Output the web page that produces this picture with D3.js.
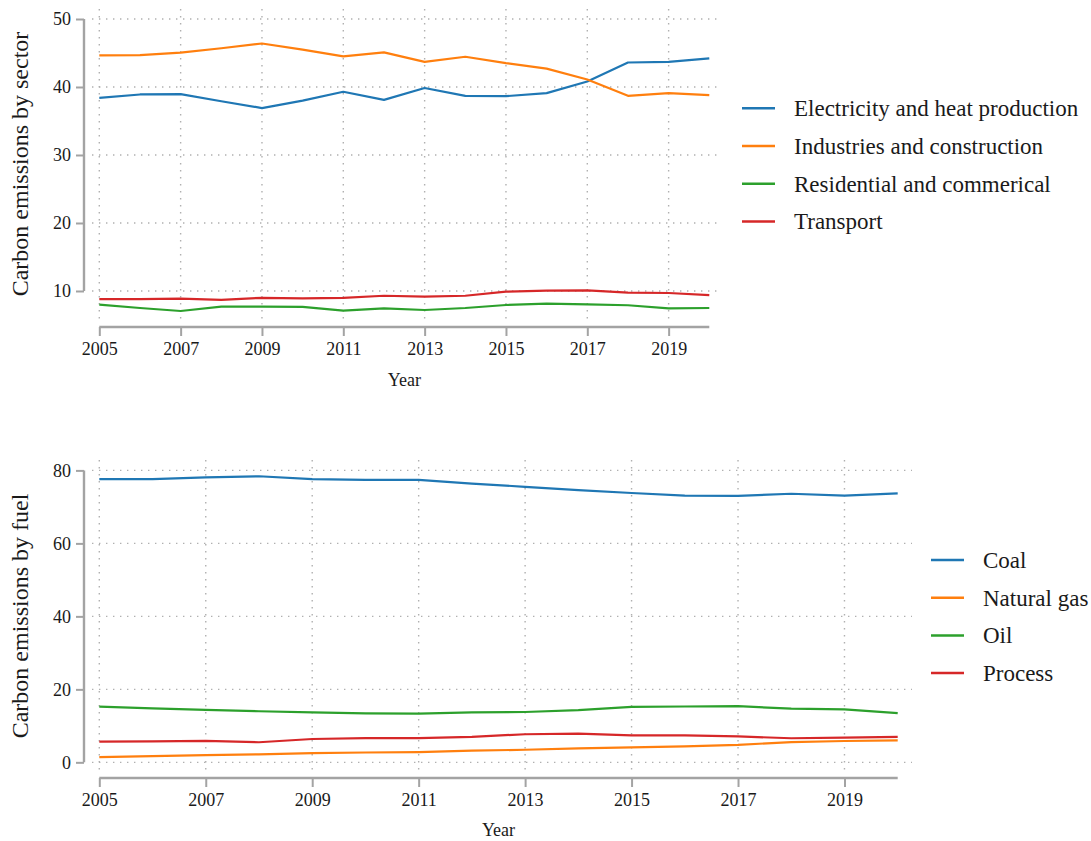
<!DOCTYPE html>
<html>
<head>
<meta charset="utf-8">
<script src="https://cdn.jsdelivr.net/npm/d3@7"></script>
<style>
  html, body { margin: 0; padding: 0; background: #fff; }
  svg { display: block; }
  text { font-family: "Liberation Serif", "Times New Roman", serif; fill: #1a1a1a; }
</style>
</head>
<body>
<svg id="chart" width="1091" height="841"></svg>
<script>
// ---------------- DATA ----------------
const years = [2005, 2006, 2007, 2008, 2009, 2010, 2011, 2012, 2013, 2014, 2015, 2016, 2017, 2018, 2019, 2020];

const sectorNames = ["Electricity and heat production", "Industries and construction", "Residential and commerical", "Transport"];
const electricity = [38.4, 38.9, 38.95, 37.9, 36.9, 38.0, 39.3, 38.1, 39.85, 38.7, 38.65, 39.1, 40.8, 43.6, 43.7, 44.2];
const industries  = [44.65, 44.7, 45.05, 45.7, 46.4, 45.5, 44.5, 45.1, 43.7, 44.45, 43.5, 42.7, 41.1, 38.7, 39.1, 38.8];
const residential = [8.0, 7.5, 7.06, 7.7, 7.7, 7.65, 7.1, 7.45, 7.2, 7.5, 7.94, 8.13, 8.04, 7.9, 7.45, 7.5];
const transport   = [8.8, 8.8, 8.87, 8.7, 9.0, 8.9, 9.0, 9.3, 9.16, 9.3, 9.9, 10.05, 10.1, 9.75, 9.7, 9.4];

const fuelNames = ["Coal", "Natural gas", "Oil", "Process"];
const coal       = [77.6, 77.6, 78.1, 78.4, 77.6, 77.4, 77.4, 76.4, 75.5, 74.6, 73.8, 73.1, 73.0, 73.6, 73.1, 73.7];
const naturalGas = [1.45, 1.7, 2.0, 2.2, 2.55, 2.7, 2.8, 3.2, 3.45, 3.8, 4.1, 4.4, 4.8, 5.55, 5.85, 6.0];
const oil        = [15.25, 14.8, 14.35, 14.0, 13.7, 13.4, 13.35, 13.7, 13.8, 14.3, 15.2, 15.3, 15.4, 14.7, 14.5, 13.5];
const process    = [5.65, 5.75, 5.9, 5.5, 6.4, 6.65, 6.65, 7.0, 7.7, 7.85, 7.4, 7.4, 7.1, 6.6, 6.75, 7.0];

const xTicks = [2005, 2007, 2009, 2011, 2013, 2015, 2017, 2019];
const sectorTicks = [10, 20, 30, 40, 50];
const fuelTicks = [0, 20, 40, 60, 80];

const colors = ["#1f77b4", "#ff7f0e", "#2ca02c", "#d62728"];

// ---------------- DRAW ----------------
const FONT = "'Liberation Serif', 'Times New Roman', serif";
const svg = d3.select("#chart");
svg.append("rect").attr("width", 1091).attr("height", 841).attr("fill", "#fff");

function panel(cfg) {
  const g = svg.append("g");
  const x = d3.scaleLinear().domain([2005, 2020]).range(cfg.xRange);
  const y = d3.scaleLinear().domain(cfg.yDomain).range(cfg.yRange);
  const ticks = cfg.yTicks;
  const gridColor = "#b0b0b0";
  const axisColor = "#a3a3a3";

  // horizontal grid
  g.append("g").selectAll("line").data(ticks).join("line")
    .attr("x1", cfg.gridX[0]).attr("x2", cfg.gridX[1])
    .attr("y1", d => y(d)).attr("y2", d => y(d))
    .attr("stroke", gridColor).attr("stroke-width", 1.4)
    .attr("stroke-dasharray", "1.4,5.6");
  // vertical grid
  g.append("g").selectAll("line").data(xTicks).join("line")
    .attr("x1", d => x(d)).attr("x2", d => x(d))
    .attr("y1", cfg.yRange[1]).attr("y2", cfg.yRange[0])
    .attr("stroke", gridColor).attr("stroke-width", 1.4)
    .attr("stroke-dasharray", "1.4,5.6");

  // series lines
  const line = d3.line().x((d, i) => x(years[i])).y(d => y(d));
  cfg.series.forEach((s, k) => {
    g.append("path").datum(s)
      .attr("d", line)
      .attr("fill", "none")
      .attr("stroke", colors[k])
      .attr("stroke-width", 2.2)
      .attr("stroke-linejoin", "round");
  });

  // y axis (line spans tick range)
  const yAx = g.append("g").attr("transform", `translate(${cfg.yAxisX},0)`)
    .call(d3.axisLeft(y).tickValues(ticks).tickSize(8).tickPadding(5).tickFormat(d3.format("d")))
    .attr("font-family", FONT).attr("font-size", 18);
  yAx.select(".domain").remove();
  yAx.append("line")
    .attr("x1", 0).attr("x2", 0)
    .attr("y1", y(d3.min(ticks))).attr("y2", y(d3.max(ticks)))
    .attr("stroke", axisColor).attr("stroke-width", 2.4);
  yAx.selectAll(".tick line").attr("stroke", axisColor).attr("stroke-width", 2);
  yAx.selectAll(".tick text").attr("fill", "#1a1a1a")
    .style("font-family", FONT).style("font-size", "18px");

  // x axis
  const xAx = g.append("g").attr("transform", `translate(0,${cfg.xAxisY})`)
    .call(d3.axisBottom(x).tickValues(xTicks).tickSize(9).tickPadding(6).tickFormat(d3.format("d")))
    .attr("font-family", FONT).attr("font-size", 18);
  xAx.select(".domain").remove();
  xAx.append("line")
    .attr("x1", x(2005)).attr("x2", x(2020))
    .attr("y1", 0).attr("y2", 0)
    .attr("stroke", axisColor).attr("stroke-width", 2.4);
  xAx.selectAll(".tick line").attr("stroke", axisColor).attr("stroke-width", 2);
  xAx.selectAll(".tick text").attr("fill", "#1a1a1a")
    .style("font-family", FONT).style("font-size", "18px");

  // axis titles
  g.append("text")
    .attr("transform", `translate(28,${cfg.yTitleY}) rotate(-90)`)
    .attr("text-anchor", "middle")
    .style("font-family", FONT)
    .style("font-size", "24px")
    .text(cfg.yTitle);
  g.append("text")
    .attr("x", (x(2005) + x(2020)) / 2).attr("y", cfg.xTitleY)
    .attr("text-anchor", "middle")
    .style("font-family", FONT)
    .style("font-size", "18px")
    .text("Year");

  // legend
  const lg = g.append("g");
  cfg.names.forEach((n, k) => {
    const yy = cfg.legendY + k * cfg.legendStep;
    lg.append("line")
      .attr("x1", cfg.legendX).attr("x2", cfg.legendX + 33)
      .attr("y1", yy).attr("y2", yy)
      .attr("stroke", colors[k]).attr("stroke-width", 2.5);
    lg.append("text")
      .attr("x", cfg.legendX + 52).attr("y", yy).attr("dy", "0.35em")
      .style("font-family", FONT)
      .style("font-size", "23px")
      .text(n);
  });
}

panel({
  xRange: [99.3, 709.3],
  yDomain: [5.88, 51.47],
  yRange: [319, 9],
  gridX: [92, 722],
  yTicks: sectorTicks,
  yAxisX: 84,
  xAxisY: 327,
  series: [electricity, industries, residential, transport],
  names: sectorNames,
  yTitle: "Carbon emissions by sector",
  yTitleY: 164,
  xTitleY: 386,
  legendX: 742,
  legendY: 108.3,
  legendStep: 37.7
});

panel({
  xRange: [99.3, 897.7],
  yDomain: [-2.1, 82.85],
  yRange: [770, 460],
  gridX: [92, 912],
  yTicks: fuelTicks,
  yAxisX: 84,
  xAxisY: 778,
  series: [coal, naturalGas, oil, process],
  names: fuelNames,
  yTitle: "Carbon emissions by fuel",
  yTitleY: 616,
  xTitleY: 836,
  legendX: 931,
  legendY: 560,
  legendStep: 37.7
});
</script>
</body>
</html>
